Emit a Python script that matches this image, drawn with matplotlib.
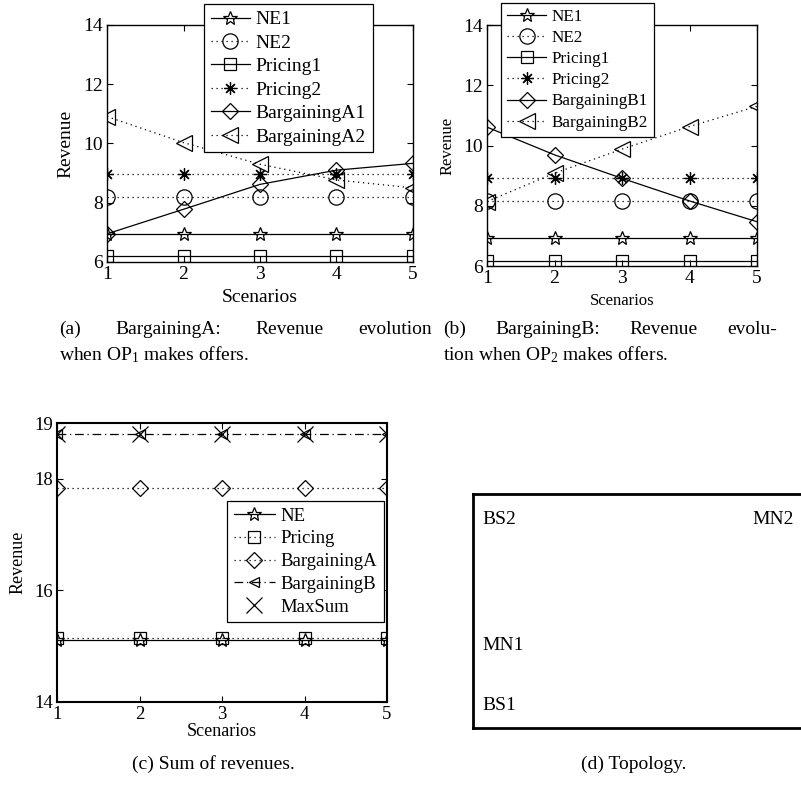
import matplotlib
matplotlib.use("Agg")
import matplotlib.pyplot as plt

plt.rcParams['font.family'] = ['Liberation Serif', 'DejaVu Serif']
plt.rcParams['mathtext.fontset'] = 'custom'
plt.rcParams['mathtext.rm'] = 'Liberation Serif'
plt.rcParams['mathtext.it'] = 'Liberation Serif:italic'

scenarios = [1, 2, 3, 4, 5]

# panel (a): BargainingA
ne1_a = [6.95, 6.95, 6.95, 6.95, 6.95]
ne2_a = [8.18, 8.18, 8.18, 8.18, 8.18]
pricing1_a = [6.2, 6.2, 6.2, 6.2, 6.2]
pricing2_a = [8.97, 8.97, 8.97, 8.97, 8.97]
bargA1 = [6.95, 7.78, 8.62, 9.1, 9.33]
bargA2 = [10.91, 10.03, 9.3, 8.77, 8.5]

# panel (b): BargainingB
ne1_b = [6.92, 6.92, 6.92, 6.92, 6.92]
ne2_b = [8.16, 8.16, 8.16, 8.16, 8.16]
pricing1_b = [6.15, 6.15, 6.15, 6.15, 6.15]
pricing2_b = [8.93, 8.93, 8.93, 8.93, 8.93]
bargB1 = [10.61, 9.69, 8.91, 8.16, 7.47]
bargB2 = [8.14, 9.08, 9.88, 10.63, 11.3]

# panel (c): sums
ne_sum = [15.11, 15.11, 15.11, 15.11, 15.11]
pricing_sum = [15.15, 15.15, 15.15, 15.15, 15.15]
bargA_sum = [17.83, 17.83, 17.83, 17.83, 17.83]
bargB_sum = [18.8, 18.8, 18.8, 18.8, 18.8]
maxsum = [18.8, 18.8, 18.8, 18.8, 18.8]

# panel (d): topology node names
nodes = ['BS2', 'MN2', 'MN1', 'BS1']

W, H = 801, 786
fig = plt.figure(figsize=(W / 100, H / 100), dpi=100)


def box(l, t, r, b):
    return [l / W, 1 - b / H, (r - l) / W, (b - t) / H]


DOT = (0, (1, 3))
LW = 0.9
style = dict(color='black', mfc='none', mec='black', mew=0.9)


def setup(ax, fs):
    ax.tick_params(direction='in', length=4, width=0.8, top=True, right=True,
                   labelsize=fs, pad=3)
    for s in ax.spines.values():
        s.set_linewidth(1.0)


def legend(ax, x, y, fs, hl, ls, lp=0.3):
    lg = ax.legend(loc='upper left', bbox_to_anchor=(x / W, 1 - y / H),
                   bbox_transform=fig.transFigure, borderaxespad=0,
                   fancybox=False, framealpha=1, edgecolor='black',
                   fontsize=fs, handlelength=hl, handletextpad=lp,
                   labelspacing=ls, borderpad=0.35)
    lg.get_frame().set_linewidth(0.9)
    return lg


# ---- (a)
ax = fig.add_axes(box(107, 25, 413, 262))
ax.plot(scenarios, ne1_a, '-', marker='*', ms=10, lw=LW, label='NE1', **style)
ax.plot(scenarios, ne2_a, linestyle=DOT, marker='o', ms=11, lw=LW, label='NE2', **style)
ax.plot(scenarios, pricing1_a, '-', marker='s', ms=8, lw=LW, label='Pricing1', **style)
ax.plot(scenarios, pricing2_a, linestyle=DOT, marker=(8, 2, 0), ms=9, lw=LW, label='Pricing2', **style)
ax.plot(scenarios, bargA1, '-', marker='D', ms=8, lw=LW, label='BargainingA1', **style)
ax.plot(scenarios, bargA2, linestyle=DOT, marker='<', ms=12, lw=LW, label='BargainingA2', **style)
ax.set_xlim(1, 5)
ax.set_ylim(6, 14)
ax.set_xticks(scenarios)
ax.set_yticks([6, 8, 10, 12, 14])
setup(ax, 14)
ax.set_ylabel('Revenue', fontsize=14)
ax.set_xlabel('Scenarios', fontsize=14)
ax.yaxis.set_label_coords(-0.105, 0.5)
ax.xaxis.set_label_coords(0.5, -0.115)
legend(ax, 204, 4, 14, 2.0, 0.3)

# ---- (b)
ax = fig.add_axes(box(487, 25, 757, 266))
ax.plot(scenarios, ne1_b, '-', marker='*', ms=10, lw=LW, label='NE1', **style)
ax.plot(scenarios, ne2_b, linestyle=DOT, marker='o', ms=11, lw=LW, label='NE2', **style)
ax.plot(scenarios, pricing1_b, '-', marker='s', ms=8, lw=LW, label='Pricing1', **style)
ax.plot(scenarios, pricing2_b, linestyle=DOT, marker=(8, 2, 0), ms=9, lw=LW, label='Pricing2', **style)
ax.plot(scenarios, bargB1, '-', marker='D', ms=8, lw=LW, label='BargainingB1', **style)
ax.plot(scenarios, bargB2, linestyle=DOT, marker='<', ms=12, lw=LW, label='BargainingB2', **style)
ax.set_xlim(1, 5)
ax.set_ylim(6, 14)
ax.set_xticks(scenarios)
ax.set_yticks([6, 8, 10, 12, 14])
setup(ax, 14)
ax.set_ylabel('Revenue', fontsize=12)
ax.set_xlabel('Scenarios', fontsize=12)
ax.yaxis.set_label_coords(-0.115, 0.5)
ax.xaxis.set_label_coords(0.5, -0.11)
legend(ax, 501, 3, 12.3, 2.3, 0.3)

# ---- (c)
ax = fig.add_axes(box(57, 423, 387, 702))
ax.plot(scenarios, ne_sum, '-', marker='*', ms=10, lw=LW, label='NE', **style)
ax.plot(scenarios, pricing_sum, linestyle=DOT, marker='s', ms=8, lw=LW, label='Pricing', **style)
ax.plot(scenarios, bargA_sum, linestyle=DOT, marker='D', ms=8, lw=LW, label='BargainingA', **style)
ax.plot(scenarios, bargB_sum, linestyle=(0, (7, 3, 1, 3)), marker='<', ms=7, lw=LW, label='BargainingB', **style)
ax.plot(scenarios, maxsum, linestyle='none', marker='x', ms=11, label='MaxSum', **style)
ax.set_xlim(1, 5)
ax.set_ylim(14, 19)
ax.set_xticks(scenarios)
ax.set_yticks([14, 16, 18, 19])
setup(ax, 13.5)
for s in ax.spines.values():
    s.set_linewidth(1.5)
ax.set_ylabel('Revenue', fontsize=13)
ax.set_xlabel('Scenarios', fontsize=13)
ax.yaxis.set_label_coords(-0.091, 0.5)
ax.xaxis.set_label_coords(0.5, -0.075)
legend(ax, 227, 501, 13.5, 2.2, 0.3)

# ---- (d) topology frame
axd = fig.add_axes(box(473, 494, 830, 728))
axd.set_xticks([])
axd.set_yticks([])
for s in axd.spines.values():
    s.set_linewidth(2)
node_x = [482, 752, 482, 482]
node_y = [520, 520, 645, 705]
for name, nx, ny in zip(nodes, node_x, node_y):
    fig.text(nx / W, 1 - ny / H, name, fontsize=14, ha='left', va='center')

# ---- captions (first line justified between two edges)
CAP_FS = 14
cap = dict(fontsize=CAP_FS, va='baseline', ha='left')


def justified(words, x0, x1, y):
    texts = [fig.text(x0 / W, 1 - y / H, w, **cap) for w in words]
    fig.canvas.draw()
    r = fig.canvas.get_renderer()
    widths = [t.get_window_extent(r).width for t in texts]
    gap = (x1 - x0 - sum(widths)) / (len(words) - 1)
    x = x0
    for t, w in zip(texts, widths):
        t.set_x(x / W)
        x += w + gap


justified(['(a)', 'BargainingA:', 'Revenue', 'evolution'], 59, 432, 334)
fig.text(59 / W, 1 - 360 / H, 'when OP$_1$ makes offers.', **cap)
justified(['(b)', 'BargainingB:', 'Revenue', 'evolu-'], 443, 777, 334)
fig.text(443 / W, 1 - 360 / H, 'tion when OP$_2$ makes offers.', **cap)
fig.text(213 / W, 1 - 769 / H, '(c) Sum of revenues.', fontsize=CAP_FS, ha='center', va='baseline')
fig.text(634 / W, 1 - 769 / H, '(d) Topology.', fontsize=CAP_FS, ha='center', va='baseline')

fig.savefig('out.png', dpi=100)
